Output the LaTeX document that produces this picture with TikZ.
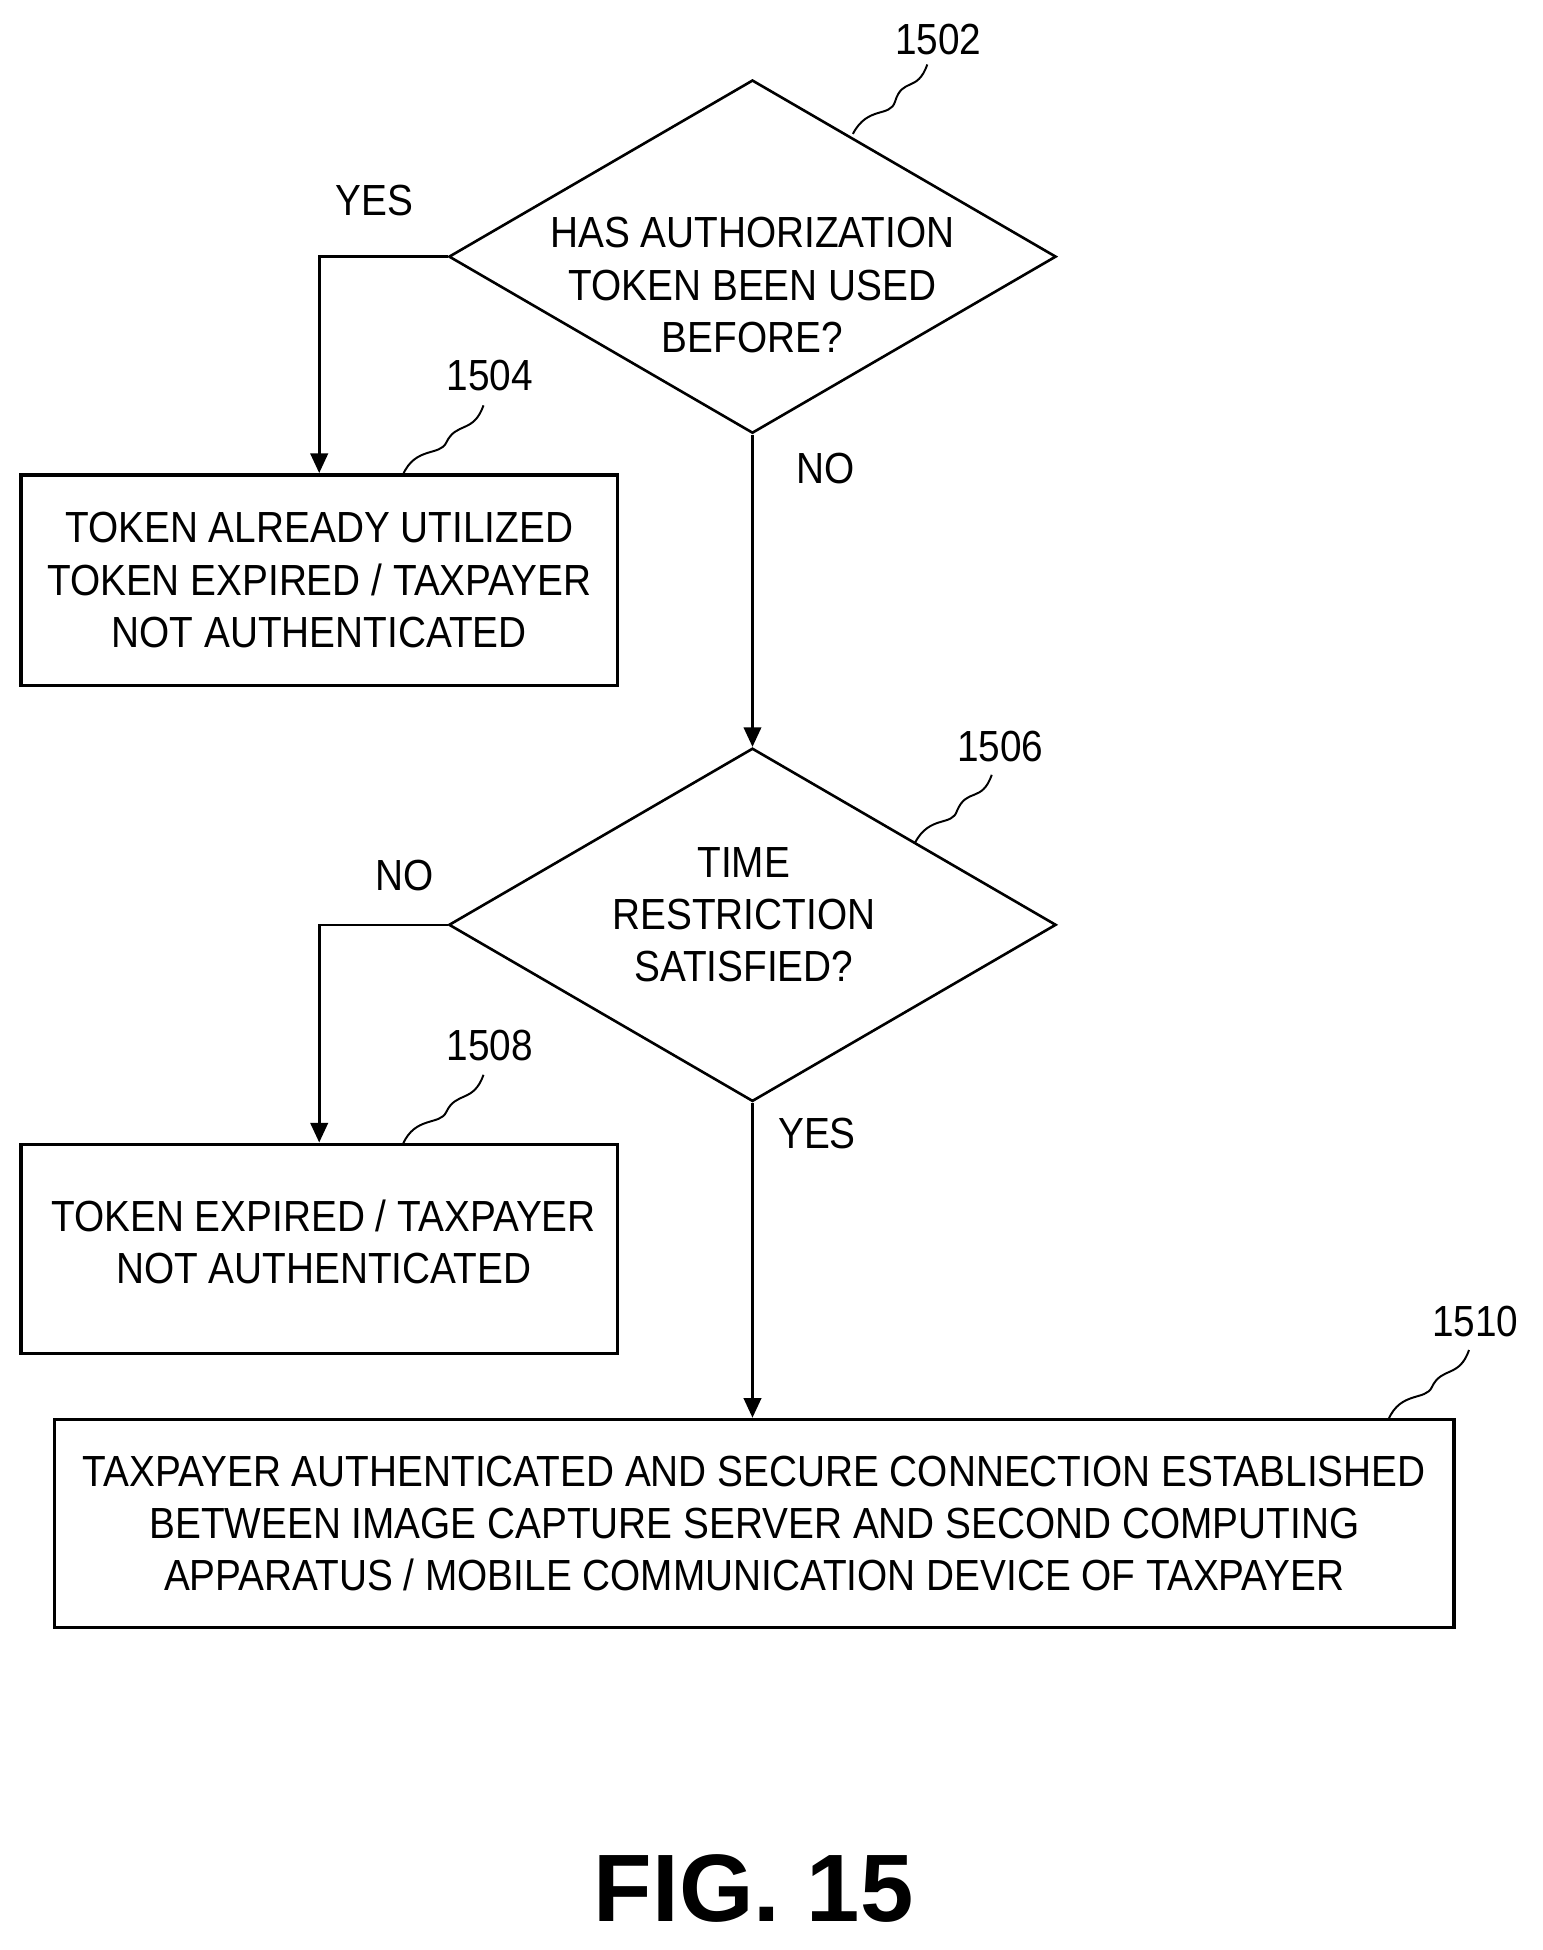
\documentclass[tikz,border=0pt]{standalone}
\usepackage{fontspec}
\setmainfont{Liberation Sans}[FakeStretch=0.89]
\newfontfamily\figfont{Liberation Sans}
\usetikzlibrary{shapes.geometric,arrows.meta}
\begin{document}
\begin{tikzpicture}[x=0.02cm,y=-0.02cm,
  every node/.style={font=\fontsize{20}{24}\selectfont},
  ln/.style={line width=1.2pt},
  arr/.style={ln,-{Triangle[length=9pt,width=8pt]}},
  dec/.style={shape=diamond,draw,line width=1.2pt,minimum width=9.8cm,minimum height=5.7cm,inner sep=0pt},
  box/.style={draw,line width=1.6pt,inner sep=0pt,align=center},
  txt/.style={align=center,inner sep=0pt},
  lbl/.style={inner sep=1pt},
  sq/.style={line width=0.9pt}]
\useasboundingbox (0,0) rectangle (1244,1573);
\node[dec] (d1) at (607,207) {};
\node[txt] (t1) at (607,230) {HAS AUTHORIZATION\\TOKEN BEEN USED\\BEFORE?};
\node[box,minimum width=9.62cm,minimum height=3.4cm] (b1) at (257.5,468) {TOKEN ALREADY UTILIZED\\TOKEN EXPIRED / TAXPAYER\\NOT AUTHENTICATED};
\node[dec] (d2) at (607,746) {};
\node[txt] (t2) at (600,738) {TIME\\RESTRICTION\\SATISFIED?};
\node[box,minimum width=9.62cm,minimum height=3.38cm] (b2) at (257.5,1007.5) {};
\node[txt] (t3) at (261,1002) {TOKEN EXPIRED / TAXPAYER\\NOT AUTHENTICATED};
\node[box,minimum width=22.58cm,minimum height=3.36cm] (b3) at (608.5,1229) {TAXPAYER AUTHENTICATED AND SECURE CONNECTION ESTABLISHED\\BETWEEN IMAGE CAPTURE SERVER AND SECOND COMPUTING\\APPARATUS / MOBILE COMMUNICATION DEVICE OF TAXPAYER};
\node[lbl] (l1502) at (757,32) {1502};
\node[lbl] (l1504) at (395,303) {1504};
\node[lbl] (l1506) at (807,602) {1506};
\node[lbl] (l1508) at (395,843) {1508};
\node[lbl] (l1510) at (1190,1066) {1510};
\node[lbl] (y1) at (302,162) {YES};
\node[lbl] (n1) at (666,378) {NO};
\node[lbl] (n2) at (326,706) {NO};
\node[lbl] (y2) at (659,914) {YES};
\node[font=\figfont\bfseries\fontsize{44}{50}\selectfont] (fig) at (608,1523) {FIG. 15};
\draw[arr] (d1.west) -| (b1.north);
\draw[arr] (d1.south) -- (d2.north);
\draw[arr] (d2.west) -| (b2.north);
\draw[arr] (d2.south) -- (b3.north -| d2.south);
\draw[sq] (688,108) .. controls (700,85) and (718,95) .. (722,82) .. controls (728,62) and (740,75) .. (748,52);
\draw[sq] (325,383) .. controls (335,360) and (355,368) .. (360,357) .. controls (368,340) and (382,350) .. (390,327);
\draw[sq] (738,680) .. controls (750,657) and (768,667) .. (772,654) .. controls (780,635) and (792,648) .. (800,625);
\draw[sq] (325,923) .. controls (335,900) and (355,908) .. (360,897) .. controls (368,880) and (382,890) .. (390,867);
\draw[sq] (1120,1145) .. controls (1130,1122) and (1150,1130) .. (1155,1119) .. controls (1163,1102) and (1177,1112) .. (1185,1089);
\end{tikzpicture}
\end{document}
